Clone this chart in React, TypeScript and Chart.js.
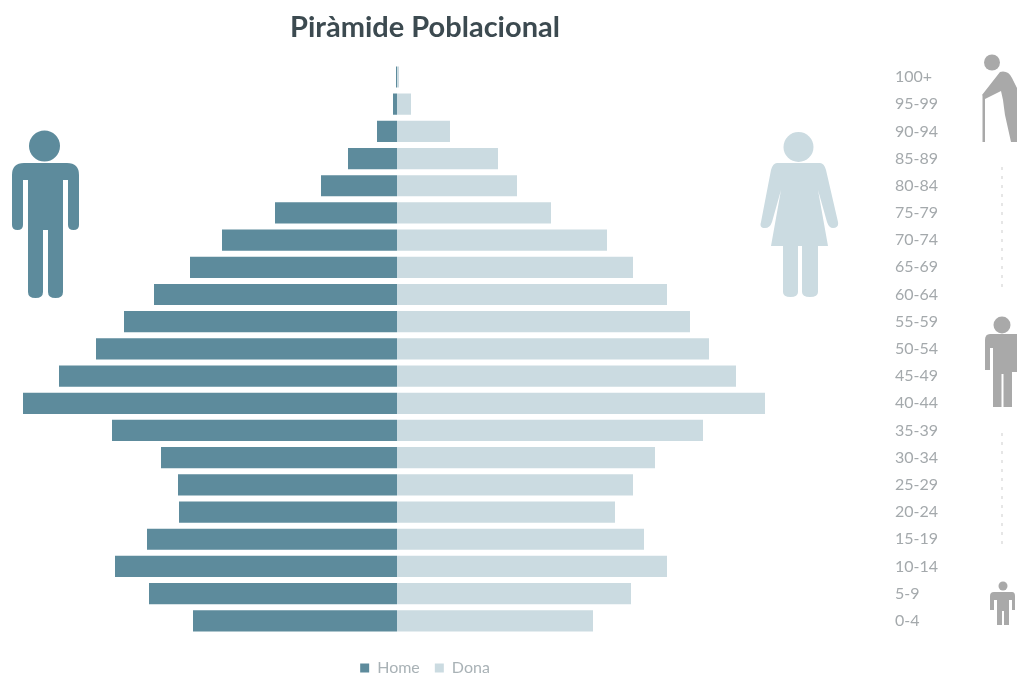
import React, { useEffect, useRef } from "react";
import { Chart, registerables } from "chart.js";

Chart.register(...registerables);

const ageGroups = ["100+","95-99","90-94","85-89","80-84","75-79","70-74","65-69","60-64","55-59","50-54","45-49","40-44","35-39","30-34","25-29","20-24","15-19","10-14","5-9","0-4"];
const home = [-1,-4,-20,-49,-76,-122,-175,-207,-243,-273,-301,-338,-374,-285,-236,-219,-218,-250,-282,-248,-204];
const dona = [2,14,53,101,120,154,210,236,270,293,312,339,368,306,258,236,218,247,270,234,196];

const MALE = "#5d8b9c";
const FEMALE = "#cbdbe1";
const GREY = "#a9a9a9";
const FONT = "Lato, sans-serif";

const legendShift = {
  id: "legendShift",
  afterLayout(chart: any) {
    chart.legend.top = 645;
    chart.legend.bottom = 681;
  },
};

function Icons() {
  return (
    <svg width={1017} height={676} style={{ position: "absolute", left: 0, top: 0, pointerEvents: "none" }}>
      <g fill={MALE}>
        <circle cx={44.5} cy={146} r={15.5} />
        <path d="M24 163H67Q79 163 79 175V225Q79 230 73.500 230Q68 230 68 225V180H63V292Q63 298 55.500 298Q48 298 48 292V230H43V292Q43 298 35.500 298Q28 298 28 292V180H23V225Q23 230 17.500 230Q12 230 12 225V175Q12 163 24 163Z" />
      </g>
      <g fill={FEMALE}>
        <circle cx={798.5} cy={147} r={15} />
        <path d="M777 163H820Q824 163 826 170L838 222Q839 228 833 228Q829 228 827 222L818 190L828 246H818V292Q818 297 810 297Q802 297 802 292V246H798V292Q798 297 790.500 297Q783 297 783 292V246H771L781 190L772 222Q770 228 765 228Q759 228 761 222L771 170Q773 163 777 163Z" />
      </g>
      <g fill={GREY}>
        <circle cx={992} cy={62.500} r={8} />
        <rect x={982.500} y={96} width={2.500} height={46} />
        <path d="M1000 72Q1008 70 1012 78L1017 88V142H1011L1005 115Q1004 108 1003 100L1001 91L985 99L982 95Z" />
        <circle cx={1002} cy={325} r={8.500} />
        <path d="M990 334H1017V372H1012V407H1003.500V374H1001.500V407H993V348H990V370H985V340Q985 334 990 334Z" />
        <circle cx={1003} cy={586} r={4.500} />
        <path d="M994 592H1012Q1015 592 1015 596V610H1012V600H1009V625H1004V611H1002V625H997V600H994V610H990V596Q990 592 994 592Z" />
      </g>
      <line x1={1002} y1={167} x2={1002} y2={290} stroke="#e6e6e6" strokeWidth={2} strokeDasharray="3 6" />
      <line x1={1002} y1={433} x2={1002} y2={547} stroke="#e6e6e6" strokeWidth={2} strokeDasharray="3 6" />
    </svg>
  );
}

export default function App() {
  const ref = useRef<HTMLCanvasElement>(null);
  useEffect(() => {
    const chart = new Chart(ref.current!, {
      type: "bar",
      data: {
        labels: ageGroups,
        datasets: [
          { label: "Home", data: home, backgroundColor: MALE, stack: "p" },
          { label: "Dona", data: dona, backgroundColor: FEMALE, stack: "p" },
        ],
      },
      plugins: [legendShift],
      options: {
        indexAxis: "y",
        responsive: false,
        animation: false,
        layout: { autoPadding: false, padding: 0 },
        datasets: { bar: { categoryPercentage: 1, barPercentage: 0.78 } },
        scales: {
          x: { min: -397, max: 453, stacked: true, display: false },
          y: {
            position: "right",
            stacked: true,
            grid: { display: false },
            border: { display: false },
            afterFit: (s: any) => { s.width = 167; },
            ticks: {
              crossAlign: "near",
              padding: 37,
              autoSkip: false,
              color: "#a4a9ac",
              font: { family: FONT, size: 16 },
            },
          },
        },
        plugins: {
          title: {
            display: true,
            fullSize: false,
            text: "Piràmide Poblacional",
            color: "#3c4a50",
            font: { family: FONT, size: 29, weight: "bold" },
            padding: { top: 10, bottom: 18.600 },
          },
          legend: {
            position: "bottom",
            fullSize: false,
            labels: {
              boxWidth: 9,
              boxHeight: 9,
              padding: 15,
              color: "#a9b2b6",
              font: { family: FONT, size: 16 },
            },
          },
          tooltip: { enabled: false },
        },
      } as any,
    });
    return () => chart.destroy();
  }, []);
  return (
    <div style={{ position: "absolute", left: 0, top: 0, width: 1017, height: 676, background: "#fff", overflow: "hidden" }}>
      <canvas ref={ref} width={1017} height={681} style={{ display: "block" }} />
      <Icons />
    </div>
  );
}
